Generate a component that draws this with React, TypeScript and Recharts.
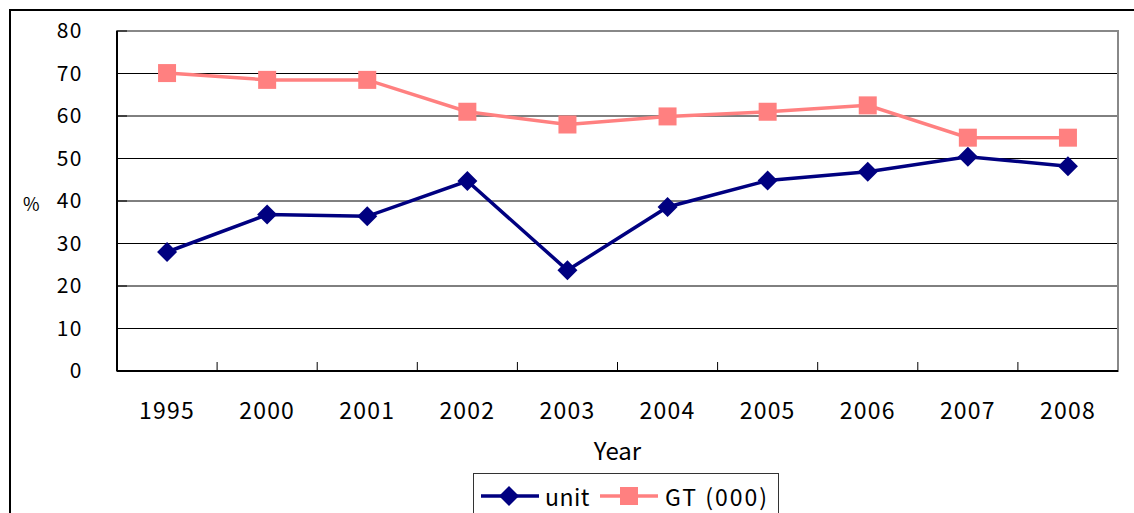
import { LineChart, Line, XAxis, YAxis, CartesianGrid, ReferenceArea, Legend } from "recharts";

const years = ["1995", "2000", "2001", "2002", "2003", "2004", "2005", "2006", "2007", "2008"];
const unitValues = [28.0, 36.8, 36.4, 44.7, 23.7, 38.6, 44.8, 46.9, 50.4, 48.2];
const gtValues = [70.1, 68.5, 68.5, 61.0, 58.0, 59.9, 61.0, 62.5, 54.9, 54.9];
const yTicks = [0, 10, 20, 30, 40, 50, 60, 70, 80];

const NAVY = "#000080";
const PINK = "#FF8080";
const FONT = "'Noto Sans CJK JP', 'Noto Sans', sans-serif";

const data = years.map((year, i) => ({ year, unit: unitValues[i], gt: gtValues[i] }));

function DiamondDot(props: any) {
  const { cx, cy, index } = props;
  if (cx == null || cy == null) return null;
  const r = 10;
  return (
    <path
      key={`d-${index}`}
      d={`M${cx},${cy - r}L${cx + r},${cy}L${cx},${cy + r}L${cx - r},${cy}Z`}
      fill={NAVY}
    />
  );
}

function SquareDot(props: any) {
  const { cx, cy, index } = props;
  if (cx == null || cy == null) return null;
  const s = 18;
  return <rect key={`s-${index}`} x={cx - s / 2} y={cy - s / 2} width={s} height={s} fill={PINK} />;
}

// ticks sit on the category boundaries, labels in the middle
function YearTick(props: any) {
  const { x, y, payload, index } = props;
  const off = payload.offset ?? 0;
  return (
    <g>
      {index > 0 && <line x1={x - off} y1={y} x2={x - off} y2={y - 9} stroke="#000" strokeWidth={1} />}
      <text x={x} y={y} dy={48} textAnchor="middle" fontSize={23} letterSpacing={1.2} fill="#000" fontFamily={FONT}>
        {payload.value}
      </text>
    </g>
  );
}

function LegendBox() {
  return (
    <div
      style={{
        boxSizing: "border-box",
        width: 306,
        height: 60,
        border: "1px solid #333",
        background: "#fff",
        display: "flex",
        alignItems: "flex-start",
        paddingLeft: 7,
        paddingTop: 10,
        fontFamily: FONT,
        fontSize: 23,
        color: "#000",
        lineHeight: "24px",
      }}
    >
      <svg width={58} height={24} style={{ display: "block" }}>
        <line x1={0} y1={12} x2={58} y2={12} stroke={NAVY} strokeWidth={3.5} />
        <path d="M28,2L38,12L28,22L18,12Z" fill={NAVY} />
      </svg>
      <span style={{ marginLeft: 6, marginRight: 10, letterSpacing: 0.5 }}>unit</span>
      <svg width={58} height={24} style={{ display: "block" }}>
        <line x1={0} y1={12} x2={58} y2={12} stroke={PINK} strokeWidth={3.5} />
        <rect x={20} y={3} width={18} height={18} fill={PINK} />
      </svg>
      <span style={{ marginLeft: 7, letterSpacing: 2 }}>GT (000)</span>
    </div>
  );
}

export default function App() {
  return (
    <div
      style={{
        position: "absolute",
        left: 0,
        top: 0,
        width: 1134,
        height: 513,
        overflow: "hidden",
        background: "#fff",
      }}
    >
      <div
        style={{
          position: "absolute",
          left: 9,
          top: 9,
          width: 1300,
          height: 700,
          border: "2px solid #000",
        }}
      />
      <div style={{ position: "absolute", left: 0, top: 0 }}>
        <LineChart width={1134} height={513} data={data} margin={{ top: 31, right: 16, bottom: 0, left: 0 }}>
          <CartesianGrid vertical={false} stroke="#000" strokeWidth={1} />
          <ReferenceArea y1={0} y2={80} fill="none" stroke="#888" strokeWidth={2} ifOverflow="visible" />
          <XAxis
            dataKey="year"
            scale="band"
            height={142}
            interval={0}
            tickSize={0}
            tickMargin={0}
            tickLine={false}
            axisLine={{ stroke: "#000", strokeWidth: 2 }}
            tick={<YearTick />}
            label={{
              value: "Year",
              position: "insideTop",
              offset: 72,
              fontSize: 24,
              fill: "#000",
              fontFamily: FONT,
            }}
          />
          <YAxis
            width={117}
            domain={[0, 80]}
            ticks={yTicks}
            interval={0}
            tickSize={-10}
            tickMargin={44}
            tickLine={{ stroke: "#000" }}
            axisLine={{ stroke: "#000", strokeWidth: 2 }}
            tick={{ fontSize: 21, fill: "#000", fontFamily: FONT, letterSpacing: 1.5 }}
            label={{
              value: "%",
              position: "insideLeft",
              offset: 23,
              dy: 4,
              fontSize: 18,
              fill: "#000",
              fontFamily: FONT,
            }}
          />
          <Legend
            layout="horizontal"
            verticalAlign="middle"
            align="center"
            wrapperStyle={{ left: 473, top: 473, width: 306, height: 60 }}
            content={<LegendBox />}
          />
          <Line
            type="linear"
            dataKey="unit"
            stroke={NAVY}
            strokeWidth={3.5}
            dot={DiamondDot}
            activeDot={false}
            isAnimationActive={false}
          />
          <Line
            type="linear"
            dataKey="gt"
            stroke={PINK}
            strokeWidth={3.5}
            dot={SquareDot}
            activeDot={false}
            isAnimationActive={false}
          />
        </LineChart>
      </div>
    </div>
  );
}
